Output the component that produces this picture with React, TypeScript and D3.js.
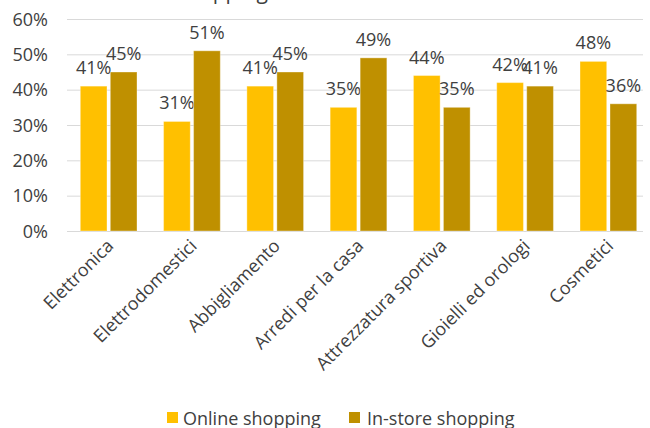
import React from "react";
import * as d3 from "d3";

const categories = [
  "Elettronica",
  "Elettrodomestici",
  "Abbigliamento",
  "Arredi per la casa",
  "Attrezzatura sportiva",
  "Gioielli ed orologi",
  "Cosmetici",
];
const onlineValues = [41, 31, 41, 35, 44, 42, 48];
const instoreValues = [45, 51, 45, 49, 35, 41, 36];
const seriesNames = ["Online shopping", "In-store shopping"];
const seriesColors = ["#FFC000", "#BF9000"];
const yTicks = [0, 10, 20, 30, 40, 50, 60];
const titleText = "Online vs in-store shopping";

const W = 650;
const H = 428;
const FONT = "'Open Sans', 'DejaVu Sans', sans-serif";
const TEXT = "#404040";
const FS = 18;

export default function App() {
  const x0 = d3.scaleBand<string>().domain(categories).range([67, 650]).paddingInner(0).paddingOuter(0);
  const y = d3.scaleLinear().domain([0, 60]).range([231, 19]);
  const barW = 26.7;
  const gap = 3.3;
  const series = [onlineValues, instoreValues];

  return (
    <svg
      width={W}
      height={H}
      style={{ position: "absolute", left: 0, top: 0, background: "#fff" }}
      fontFamily={FONT}
    >
      <text x={268} y={-1} textAnchor="end" fontSize={21} fill={TEXT}>
        {titleText}
      </text>
      {yTicks.map((t) => (
        <g key={t}>
          <line x1={67} x2={643} y1={y(t) + 0.5} y2={y(t) + 0.5} stroke="#d9d9d9" strokeWidth={1} />
          <text x={48} y={y(t) + 6.5} textAnchor="end" fontSize={FS} fill={TEXT}>
            {t}%
          </text>
        </g>
      ))}
      {categories.map((c, i) => {
        const cx = (x0(c) as number) + x0.bandwidth() / 2;
        return (
          <g key={c}>
            {series.map((vals, s) => {
              const bx = s === 0 ? cx - gap / 2 - barW : cx + gap / 2;
              const v = vals[i];
              return (
                <g key={s}>
                  <rect
                    x={bx}
                    y={y(v)}
                    width={barW}
                    height={y(0) - y(v)}
                    fill={seriesColors[s]}
                    stroke="#ffffff"
                    strokeOpacity={0.35}
                    strokeWidth={1}
                  />
                  <text x={bx + barW / 2} y={y(v) - 12} textAnchor="middle" fontSize={FS} fill={TEXT}>
                    {v}%
                  </text>
                </g>
              );
            })}
            <text
              transform={`translate(${cx + 6},${247}) rotate(-45)`}
              textAnchor="end"
              fontSize={FS}
              fill={TEXT}
            >
              {c}
            </text>
          </g>
        );
      })}
      <g>
        <rect x={167} y={412} width={11} height={11} fill={seriesColors[0]} />
        <text x={183} y={425} fontSize={FS} fill={TEXT}>
          {seriesNames[0]}
        </text>
        <rect x={349} y={412} width={11} height={11} fill={seriesColors[1]} />
        <text x={367} y={425} fontSize={FS} fill={TEXT}>
          {seriesNames[1]}
        </text>
      </g>
    </svg>
  );
}
